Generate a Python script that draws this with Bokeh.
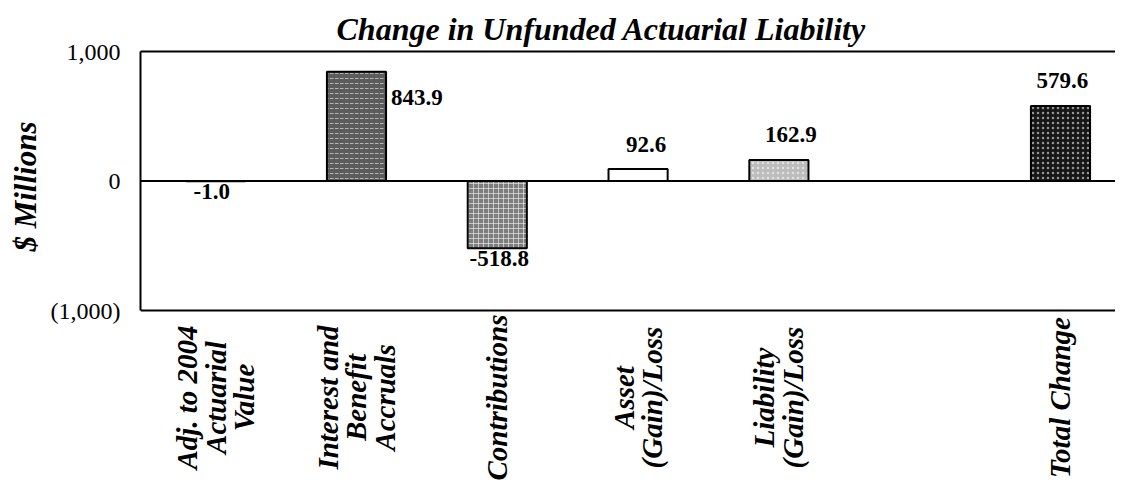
import math
from bokeh.plotting import figure
from bokeh.models import Range1d, LinearAxis, FixedTicker, Span, Title
from bokeh.core.properties import value
from bokeh.embed import file_html
from bokeh.resources import INLINE

# ---- data ----
categories = ["Adj. to 2004\nActuarial\nValue",
              "Interest and\nBenefit\nAccruals",
              "Contributions",
              "Asset\n(Gain)/Loss",
              "Liability\n(Gain)/Loss",
              "",
              "Total Change"]
values = [-1.0, 843.9, -518.8, 92.6, 162.9, None, 579.6]
bar_colors = ["#808080", "#5c5c5c", "#7e7e7e", "#ffffff", "#bdbdbd", None, "#161616"]
bar_hatch = [" ", "horizontal_dash", "cross", " ", "dot", None, "dot"]
label_modes = ["below", "right", "below", "above", "above", None, "above"]
label_dx = [-4, 5, 2, 8, 12, 0, 2]
y_ticks = [-1000, 0, 1000]
y_tick_labels = ["(1,000)", "0", "1,000"]
title_text = "Change in Unfunded Actuarial Liability"
y_title = "$ Millions"

SERIF = "Liberation Serif"
BAR_W = 0.42
Y0, Y1 = -1000, 1000
AXIS_PX = 259            # pixels between -1000 and 1000
FRAME_H = 431            # frame continues below the axis to hold the category texts
FRAME_W = 975
SLOT_PX = 140.8
units_per_px = (Y1 - Y0) / AXIS_PX
y_bottom = Y1 - FRAME_H * units_per_px
x_start = -0.534
x_end = x_start + FRAME_W / SLOT_PX

p = figure(frame_width=FRAME_W, frame_height=FRAME_H, output_backend="svg",
           toolbar_location=None,
           x_range=Range1d(x_start, x_end), y_range=Range1d(y_bottom, Y1),
           min_border_left=140, min_border_right=0, min_border_top=51,
           min_border_bottom=0, background_fill_color="white",
           border_fill_color="white")
p.outline_line_color = None
p.grid.visible = False
p.xaxis.visible = False

p.title = Title(text=title_text, align="left", offset=196,
                text_font=SERIF, text_font_style="bold italic",
                text_font_size="32px", text_color="black")

# y axis
ya = p.yaxis[0]
ya.bounds = (Y0, Y1)
ya.ticker = FixedTicker(ticks=y_ticks)
ya.major_label_overrides = {t: l for t, l in zip(y_ticks, y_tick_labels)}
ya.major_label_text_font = SERIF
ya.major_label_text_font_size = "24px"
ya.major_label_text_color = "black"
ya.major_label_standoff = 14
ya.major_tick_line_color = None
ya.minor_tick_line_color = None
ya.axis_line_width = 2
ya.axis_line_color = "black"

# y-axis title, placed beside the -1000..1000 span
p.add_layout(Title(text=y_title, align="right", offset=70, standoff=10,
                   text_font=SERIF, text_font_style="bold italic",
                   text_font_size="31px", text_color="black"), "left")

# top frame line
top = LinearAxis(ticker=FixedTicker(ticks=[]), axis_line_width=2,
                 axis_line_color="black", major_tick_line_color=None,
                 minor_tick_line_color=None, major_label_text_font_size="0px")
p.add_layout(top, "above")

# bottom frame line and zero line
p.add_layout(Span(location=Y0, dimension="width", line_color="black", line_width=2))
p.add_layout(Span(location=0, dimension="width", line_color="black", line_width=2))

# category texts, rotated, centred under each bar slot
ticks = [i for i, c in enumerate(categories) if c]
cat_y = Y0 - 87 * units_per_px
p.text(x=ticks, y=[cat_y] * len(ticks), text=[categories[i] for i in ticks],
       angle=math.pi / 2, text_align="center", text_baseline="middle",
       text_font=value(SERIF), text_font_style="bold italic",
       text_font_size="29px", text_line_height=0.9, text_color="black")

# bars
xs = [i for i, v in enumerate(values) if v is not None]
tops = [max(values[i], 0) for i in xs]
bots = [min(values[i], 0) for i in xs]
cols = [bar_colors[i] for i in xs]
hats = [bar_hatch[i] for i in xs]
p.vbar(x=xs, top=tops, bottom=bots, width=BAR_W, fill_color=cols,
       hatch_pattern=hats, hatch_color="white", hatch_alpha=0.55,
       hatch_scale=5, hatch_weight=1,
       line_color="black", line_width=2)

# value labels
for i in xs:
    v = values[i]
    mode = label_modes[i]
    txt = f"{v:.1f}"
    common = dict(text=[txt], text_font=value(SERIF), text_font_style="bold",
                  text_font_size="23px", text_color="black")
    if mode == "right":
        p.text(x=[i + BAR_W / 2], y=[v], x_offset=label_dx[i], y_offset=26,
               text_align="left", text_baseline="middle", **common)
    elif mode == "above":
        p.text(x=[i], y=[v], x_offset=label_dx[i], y_offset=-25,
               text_align="center", text_baseline="alphabetic", **common)
    else:
        p.text(x=[i], y=[min(v, 0)], x_offset=label_dx[i], y_offset=3,
               text_align="center", text_baseline="top", **common)

open("out.html", "w").write(file_html(p, INLINE))
